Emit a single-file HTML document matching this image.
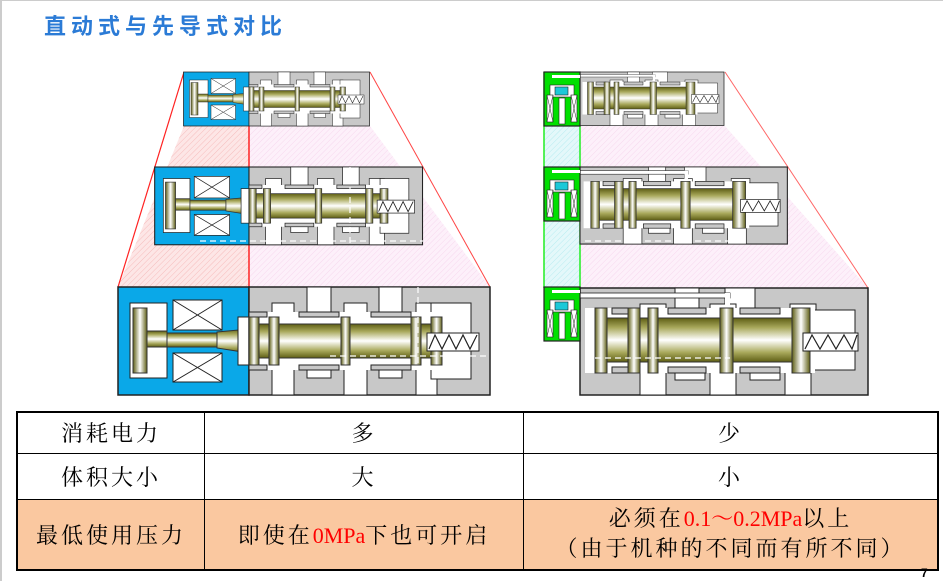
<!DOCTYPE html>
<html><head><meta charset="utf-8"><style>
html,body{margin:0;padding:0;background:#fff;}
body{width:943px;height:581px;position:relative;overflow:hidden;}
.title{position:absolute;left:44px;top:9px;font:bold 22px "Liberation Sans","Noto Sans CJK SC",sans-serif;color:#2b7bd6;letter-spacing:5px;}
table{position:absolute;left:16px;top:411px;width:923px;border-collapse:collapse;font-family:"Liberation Serif","Noto Serif CJK SC","Noto Sans CJK SC",serif;font-size:22px;letter-spacing:3px;}
td{border:1px solid #000;text-align:center;padding:0;}
.r{color:#f00;letter-spacing:0;}
.pg{position:absolute;left:921px;top:566px;font:bold 12px "Liberation Sans",sans-serif;}
</style></head><body>
<div style="position:absolute;left:0;top:0;width:2px;height:581px;background:#ccc"></div>
<div style="position:absolute;left:0;top:0;width:943px;height:1px;background:#ccc"></div>
<div class="title">直动式与先导式对比</div>
<svg width="943" height="410" style="position:absolute;left:0;top:0">
<defs>
<linearGradient id="sp" x1="0" y1="0" x2="0" y2="1">
<stop offset="0" stop-color="#5e5e14"/><stop offset="0.22" stop-color="#a9a95c"/><stop offset="0.5" stop-color="#fff"/><stop offset="0.78" stop-color="#a9a95c"/><stop offset="1" stop-color="#5e5e14"/></linearGradient>
<linearGradient id="sph" x1="0" y1="0" x2="1" y2="0">
<stop offset="0" stop-color="#5e5e14"/><stop offset="0.5" stop-color="#fff"/><stop offset="1" stop-color="#5e5e14"/></linearGradient>
<pattern id="hr" width="4" height="4" patternUnits="userSpaceOnUse" patternTransform="rotate(45)"><rect width="4" height="4" fill="#fde6e6"/><line x1="0" y1="0" x2="0" y2="4" stroke="#f6bcbc" stroke-width="1"/></pattern>
<pattern id="hp" width="4" height="4" patternUnits="userSpaceOnUse" patternTransform="rotate(45)"><rect width="4" height="4" fill="#fdf0fa"/><line x1="0" y1="0" x2="0" y2="4" stroke="#f7d8ee" stroke-width="1"/></pattern>
<pattern id="hc" width="4" height="4" patternUnits="userSpaceOnUse" patternTransform="rotate(45)"><rect width="4" height="4" fill="#e4f8fa"/><line x1="0" y1="0" x2="0" y2="4" stroke="#b8ecf0" stroke-width="1"/></pattern>

<g id="body">
<rect x="0" y="0" width="241" height="108" fill="#c8c8c8" stroke="#222" stroke-width="1.5"/>
<g fill="#fff" stroke="#222" stroke-width="1">
<rect x="58" y="0" width="24" height="30"/><rect x="130" y="0" width="23" height="30"/>
<rect x="23" y="16" width="22" height="14"/><rect x="95" y="16" width="23" height="14"/><rect x="167" y="16" width="21" height="14"/>
<rect x="23" y="78" width="22" height="30"/><rect x="95" y="78" width="23" height="30"/><rect x="167" y="78" width="21" height="30"/>
<rect x="58" y="78" width="24" height="13"/><rect x="130" y="78" width="23" height="13"/>
<rect x="182" y="16" width="40" height="76"/>
</g>
<rect x="0" y="25" width="192" height="58" fill="#fff"/>
<g fill="#c8c8c8" stroke="#222" stroke-width="1">
<rect x="0" y="25" width="18" height="5"/><rect x="50" y="25" width="40" height="5"/><rect x="122" y="25" width="40" height="5"/>
<rect x="0" y="78" width="18" height="5"/><rect x="50" y="78" width="40" height="5"/><rect x="122" y="78" width="40" height="5"/>
</g>
<rect x="0" y="37" width="182" height="34" fill="url(#sp)" stroke="#333" stroke-width="1"/>
<g fill="url(#sph)" stroke="#333" stroke-width="1">
<rect x="0" y="30" width="10" height="48"/><rect x="20" y="30" width="10" height="48"/><rect x="92" y="30" width="9" height="48"/><rect x="162" y="30" width="10" height="48"/><rect x="182" y="30" width="11" height="48"/>
</g>
<rect x="178" y="46" width="52" height="18" fill="#fff" stroke="#222"/>
<polyline points="180,62 186,48 193,62 200,48 207,62 214,48 221,62 228,48" fill="none" stroke="#222" stroke-width="1.2"/>
</g>

<g id="sol">
<rect x="-131" y="0" width="131" height="108" fill="#0aa8e8" stroke="#222" stroke-width="1.5"/>
<rect x="-119" y="16" width="37" height="75" fill="#fff" stroke="#222"/>
<rect x="-116" y="21" width="14" height="65" fill="url(#sph)" stroke="#333"/>
<rect x="-102" y="44" width="20" height="16" fill="url(#sp)" stroke="#333"/>
<rect x="-82" y="46" width="50" height="14" fill="url(#sp)" stroke="#333"/>
<polygon points="-32,45 0,42 0,66 -32,61" fill="url(#sp)" stroke="#333"/>
<rect x="-11" y="30" width="11" height="48" fill="#fff" stroke="#222"/>
<g fill="#fff" stroke="#222"><rect x="-76" y="13" width="49" height="30"/><rect x="-76" y="66" width="49" height="29"/></g>
<g stroke="#222"><line x1="-76" y1="13" x2="-27" y2="43"/><line x1="-27" y1="13" x2="-76" y2="43"/><line x1="-76" y1="66" x2="-27" y2="95"/><line x1="-27" y1="66" x2="-76" y2="95"/></g>
</g>

<g id="pbody">
<rect x="0" y="0" width="288" height="107" fill="#c8c8c8" stroke="#222" stroke-width="1.5"/>
<g fill="#fff" stroke="#222" stroke-width="1">
<rect x="95" y="0" width="24" height="30"/><rect x="145" y="0" width="30" height="25"/>
<rect x="60" y="16" width="26" height="14"/><rect x="130" y="16" width="26" height="14"/><rect x="210" y="16" width="26" height="14"/>
<rect x="60" y="78" width="26" height="29"/><rect x="130" y="78" width="26" height="29"/><rect x="205" y="78" width="26" height="29"/>
<rect x="95" y="78" width="30" height="14"/><rect x="170" y="78" width="30" height="14"/>
<rect x="225" y="22" width="50" height="60"/>
</g>
<rect x="5" y="20" width="230" height="65" fill="#fff"/>
<rect x="0" y="5" width="150" height="5" fill="#fff" stroke="#222" stroke-width="0.8"/>
<rect x="145" y="5" width="5" height="20" fill="#fff"/>
<g fill="#c8c8c8" stroke="#222" stroke-width="1">
<rect x="32" y="20" width="20" height="6"/><rect x="88" y="20" width="38" height="6"/><rect x="160" y="20" width="40" height="6"/>
<rect x="32" y="79" width="20" height="6"/><rect x="88" y="79" width="38" height="6"/><rect x="160" y="79" width="40" height="6"/>
</g>
<rect x="15" y="20" width="12" height="65" fill="url(#sph)" stroke="#333"/>
<rect x="27" y="30" width="190" height="44" fill="url(#sp)" stroke="#333"/>
<g fill="url(#sph)" stroke="#333"><rect x="48" y="20" width="12" height="65"/><rect x="68" y="20" width="10" height="65"/><rect x="140" y="20" width="13" height="65"/><rect x="212" y="20" width="18" height="65"/></g>
<rect x="223" y="45" width="55" height="18" fill="#fff" stroke="#222"/>
<polyline points="225,61 232,47 240,61 248,47 256,61 264,47 272,61 277,47" fill="none" stroke="#222" stroke-width="1.2"/>
</g>

<g id="pilot">
<rect x="0" y="0" width="36" height="54" fill="#00e000" stroke="#222" stroke-width="1.2"/>
<rect x="8" y="3" width="28" height="3" fill="#fff"/>
<rect x="6" y="13" width="24" height="12" fill="#fff" stroke="#222" stroke-width="0.6"/>
<rect x="11" y="15" width="13" height="8" fill="#1cc8d8" stroke="#222" stroke-width="0.6"/>
<rect x="15" y="26" width="6" height="26" fill="#fff" stroke="#222" stroke-width="0.6"/>
<g fill="#fff" stroke="#222" stroke-width="0.6"><rect x="3" y="23" width="6" height="27"/><rect x="27" y="23" width="6" height="27"/></g>
<g stroke="#222" stroke-width="0.5"><line x1="3" y1="23" x2="9" y2="50"/><line x1="9" y1="23" x2="3" y2="50"/><line x1="27" y1="23" x2="33" y2="50"/><line x1="33" y1="23" x2="27" y2="50"/></g>
</g>
</defs>

<polygon points="184,126 249,126 249,287 118,287" fill="url(#hr)"/>
<polygon points="249,126 370,126 490,287 249,287" fill="url(#hp)"/>
<line x1="184" y1="72" x2="118" y2="287" stroke="#f22" stroke-width="1.2"/>
<line x1="370" y1="72" x2="490" y2="287" stroke="#f44" stroke-width="1"/>
<line x1="249" y1="72" x2="249" y2="287" stroke="#f22" stroke-width="1.5"/>
<polygon points="544,126 580,126 580,288 544,288" fill="url(#hc)"/>
<polygon points="580,126 725,126 868,288 580,288" fill="url(#hp)"/>
<line x1="725" y1="72" x2="868" y2="288" stroke="#f66" stroke-width="1"/>
<line x1="544" y1="72" x2="544" y2="288" stroke="#2e2" stroke-width="1.5"/>
<line x1="580" y1="72" x2="580" y2="288" stroke="#2e2" stroke-width="1.5"/>

<g transform="translate(249,287)"><use href="#sol"/><use href="#body"/></g>
<g transform="translate(249,167) scale(0.72)"><use href="#sol"/><use href="#body"/></g>
<g transform="translate(249,72) scale(0.5)"><use href="#sol"/><use href="#body"/></g>
<g transform="translate(580,288)"><use href="#pbody"/></g>
<g transform="translate(580,167) scale(0.72)"><use href="#pbody"/></g>
<g transform="translate(580,72) scale(0.5)"><use href="#pbody"/></g>
<g transform="translate(544,287)"><use href="#pilot"/></g>
<g transform="translate(544,167)"><use href="#pilot"/></g>
<g transform="translate(544,72)"><use href="#pilot"/></g>
<g stroke="#fff" stroke-width="1.2" stroke-dasharray="6,4">
<line x1="200" y1="241" x2="423" y2="241"/><line x1="350" y1="167" x2="350" y2="245"/>
<line x1="330" y1="356" x2="490" y2="356"/><line x1="418" y1="287" x2="418" y2="395"/>
<line x1="585" y1="241" x2="730" y2="241"/><line x1="585" y1="358" x2="730" y2="358"/>
</g>
</svg>

<table style="border:2px solid #000">
<tr style="height:41px"><td style="width:186px">消耗电力</td><td style="width:318px">多</td><td>少</td></tr>
<tr style="height:46px"><td>体积大小</td><td>大</td><td>小</td></tr>
<tr style="height:71px;background:#fac8a0"><td>最低使用压力</td><td>即使在<span class="r">0MPa</span>下也可开启</td><td style="line-height:30px">必须在<span class="r">0.1～0.2MPa</span>以上<br>（由于机种的不同而有所不同）</td></tr>
</table>
<div class="pg">7</div>
</body></html>
